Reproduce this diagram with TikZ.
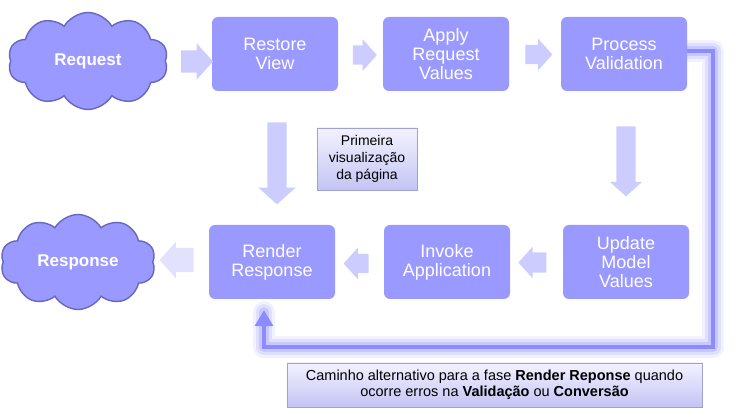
\documentclass[tikz,border=0pt]{standalone}
\usepackage{fontspec}
\setmainfont{Liberation Sans}
\usetikzlibrary{shapes.symbols,shapes.arrows,arrows.meta,backgrounds}
\definecolor{phasefill}{HTML}{9999FF}
\definecolor{cloudline}{HTML}{6767BE}
\definecolor{flowfill}{HTML}{CCCCFF}
\definecolor{flowpale}{HTML}{E2E2FF}
\definecolor{altline}{HTML}{8C8CFF}
\definecolor{notetop}{HTML}{F2F2FF}
\definecolor{notebot}{HTML}{C4C4F4}
\definecolor{noteline}{HTML}{A0A0D4}

\begin{document}
\begin{tikzpicture}[x=1pt,y=-1pt,
    phase/.style={rounded corners=6pt,fill=phasefill,text=white,
      minimum width=126pt,minimum height=74pt,align=center,
      font=\fontsize{18}{19}\selectfont},
    cloudy/.style={cloud,cloud puffs=10,cloud puff arc=120,cloud ignores aspect,
      draw=cloudline,line width=1.4pt,fill=phasefill,text=white,inner sep=0pt,
      font=\bfseries\fontsize{17}{18}\selectfont},
    flow/.style={single arrow,fill=flowfill,inner sep=0pt,
      single arrow tip angle=96},
    note/.style={draw=noteline,top color=notetop,bottom color=notebot,
      align=center,inner sep=0pt},
    alt/.style={draw=altline,line width=4pt,
      -{Triangle[length=16pt,width=18pt]}}]
  \useasboundingbox (0,0) rectangle (748,411);
  % clouds
  \node[cloudy,minimum width=160pt,minimum height=97pt] (req) at (88,61) {Request};
  \node[cloudy,minimum width=155pt,minimum height=95pt] (resp) at (78,262) {Response};
  % phases
  \node[phase] (rv) at (275,54) {Restore\\View};
  \node[phase] (arv) at (446,54) {Apply\\Request\\Values};
  \node[phase] (pv) at (624,54) {Process\\Validation};
  \node[phase] (umv) at (626,262) {Update\\Model\\Values};
  \node[phase] (iap) at (447,262) {Invoke\\Application};
  \node[phase] (rr) at (272,262) {Render\\Response};
  % block arrows
  \node[flow,minimum height=32pt,inner ysep=11pt,single arrow head extend=7pt] (f1) at (192,61.5) {};
  \node[flow,minimum height=24pt,inner ysep=9.5pt,single arrow head extend=6pt] (f2) at (360.5,55) {};
  \node[flow,minimum height=27pt,inner ysep=9.5pt,single arrow head extend=6pt] (f3) at (534.5,54.5) {};
  \node[flow,rotate=-90,minimum height=82pt,inner ysep=9.5pt,single arrow head extend=9pt] (d1) at (277,159) {};
  \node[flow,rotate=-90,minimum height=70pt,inner ysep=9.5pt,single arrow head extend=6.5pt] (d2) at (626,157) {};
  \node[flow,rotate=180,minimum height=28pt,inner ysep=10pt,single arrow head extend=5.5pt] (l1) at (537,262.5) {};
  \node[flow,rotate=180,minimum height=25pt,inner ysep=9.5pt,single arrow head extend=6pt] (l2) at (360.5,263.5) {};
  \node[flow,fill=flowpale,rotate=180,minimum height=34pt,inner ysep=12pt,single arrow head extend=6pt] (l3) at (182,260) {};
  % notes
  \node[note,minimum width=100pt,minimum height=62pt,font=\fontsize{14}{17}\selectfont] (n1) at (367,159)
    {Primeira\\visualização\\da página};
  \node[note,minimum width=415pt,minimum height=44pt,font=\fontsize{14.5}{16}\selectfont] (n2) at (494.5,385)
    {Caminho alternativo para a fase \textbf{Render Reponse} quando\\ocorre erros na \textbf{Validação} ou \textbf{Conversão}};
  % alternative path, glow behind
  \coordinate (fb) at (713,347);
  \begin{scope}[on background layer]
    \foreach \w/\o in {22/0.12,16/0.18,10/0.28}
      \draw[altline,line width=\w pt,opacity=\o,line cap=round,line join=round]
        ([yshift=3pt]pv.east) -| (fb) -| ([xshift=-8pt,yshift=-13pt]rr.south);
  \end{scope}
  \draw[alt,shorten >=11pt] ([yshift=3pt]pv.east) -| (fb) -| ([xshift=-8pt]rr.south);
\end{tikzpicture}
\end{document}
